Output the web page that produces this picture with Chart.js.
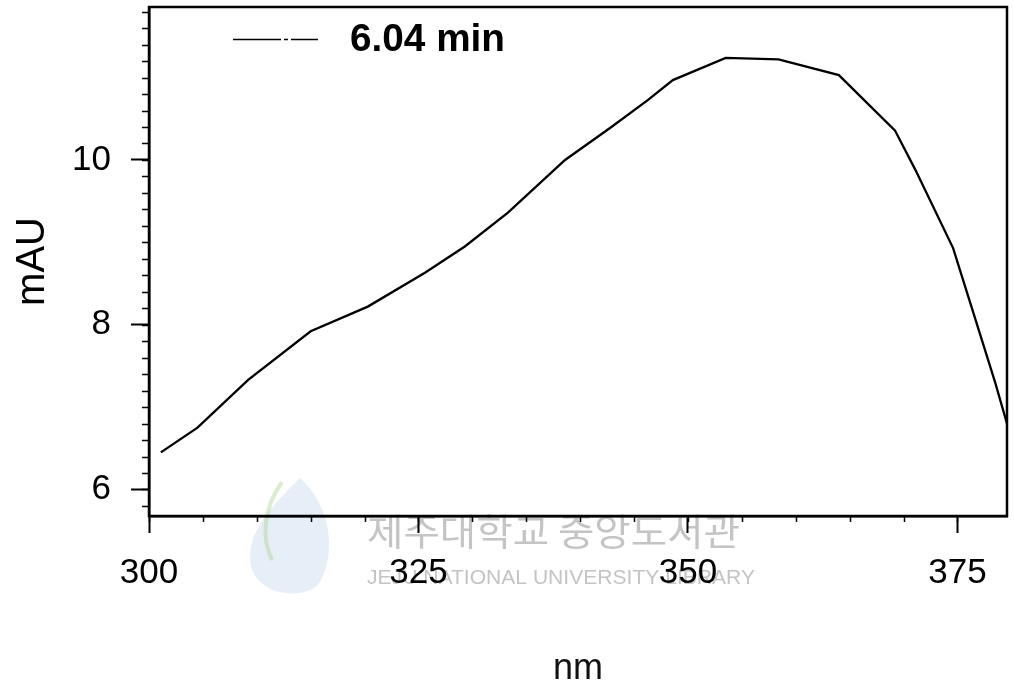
<!DOCTYPE html>
<html>
<head>
<meta charset="utf-8">
<script src="https://cdn.jsdelivr.net/npm/chart.js@4/dist/chart.umd.min.js"></script>
<style>
  html, body { margin: 0; padding: 0; background: #fff; }
  canvas { display: block; }
</style>
</head>
<body>
<canvas id="c" width="1014" height="689"></canvas>
<script>
// ---- data ----
const seriesLabel = '6.04 min';
const wavelengths = [301.1, 304.5, 309.2, 315.0, 320.3, 325.6, 329.3, 333.3, 338.6, 342.9, 346.3, 348.6, 353.5, 358.4, 364.0, 369.2, 371.1, 374.6, 376.3, 378.5, 379.6];
const absorbance  = [6.45, 6.75, 7.33, 7.92, 8.22, 8.63, 8.95, 9.36, 10.00, 10.40, 10.73, 10.97, 11.24, 11.22, 11.03, 10.36, 9.88, 8.93, 8.22, 7.30, 6.80];
const xTickValues = [300, 325, 350, 375];
const yTickValues = [6, 8, 10];
const xMinorStep = 5;
const yMinorStep = 0.2;
const xTitle = 'nm';
const yTitle = 'mAU';
const watermarkKo = '제주대학교 중앙도서관';
const watermarkEn = 'JEJU NATIONAL UNIVERSITY LIBRARY';

const FONT = '"Liberation Sans", Arial, Helvetica, sans-serif';

const decorPlugin = {
  id: 'decor',
  beforeDraw(chart) {
    const ctx = chart.ctx;
    ctx.save();
    // faint logo
    ctx.globalAlpha = 0.22;
    ctx.fillStyle = '#8fb3dd';
    ctx.beginPath();
    ctx.moveTo(300, 478);
    ctx.bezierCurveTo(335, 510, 335, 560, 318, 585);
    ctx.bezierCurveTo(300, 600, 262, 595, 252, 570);
    ctx.bezierCurveTo(244, 540, 262, 515, 300, 478);
    ctx.fill();
    ctx.globalAlpha = 0.4;
    ctx.strokeStyle = '#a8cf8a';
    ctx.lineWidth = 4;
    ctx.beginPath();
    ctx.moveTo(282, 482);
    ctx.bezierCurveTo(262, 510, 262, 540, 272, 560);
    ctx.stroke();
    ctx.globalAlpha = 1;
    // watermark text
    ctx.fillStyle = '#c4c4c4';
    ctx.textBaseline = 'middle';
    ctx.textAlign = 'left';
    ctx.font = '37px "Noto Sans CJK KR", sans-serif';
    let w = ctx.measureText(watermarkKo).width;
    ctx.save();
    ctx.translate(367, 532);
    ctx.scale(373 / w, 1);
    ctx.fillText(watermarkKo, 0, 0);
    ctx.restore();
    ctx.font = '21px ' + FONT;
    w = ctx.measureText(watermarkEn).width;
    ctx.save();
    ctx.translate(367, 578);
    ctx.scale(388 / w, 1);
    ctx.fillText(watermarkEn, 0, 0);
    ctx.restore();
    ctx.restore();
  },
  afterDraw(chart) {
    const ctx = chart.ctx;
    const a = chart.chartArea;
    const xs = chart.scales.x, ys = chart.scales.y;
    ctx.save();
    // frame
    ctx.strokeStyle = '#000';
    ctx.lineWidth = 2.5;
    ctx.strokeRect(a.left, a.top, a.right - a.left, a.bottom - a.top);
    // minor ticks
    ctx.lineWidth = 1.5;
    ctx.beginPath();
    for (let v = Math.ceil(ys.min / yMinorStep) * yMinorStep; v <= ys.max + 1e-9; v += yMinorStep) {
      const y = Math.round(ys.getPixelForValue(v)) + 0.5;
      ctx.moveTo(a.left, y);
      ctx.lineTo(a.left - 7, y);
    }
    for (let v = Math.ceil(xs.min / xMinorStep) * xMinorStep; v <= xs.max + 1e-9; v += xMinorStep) {
      const x = Math.round(xs.getPixelForValue(v)) + 0.5;
      ctx.moveTo(x, a.bottom);
      ctx.lineTo(x, a.bottom + 6);
    }
    ctx.stroke();
    // legend (inside plot area)
    const ds = chart.data.datasets[0];
    ctx.strokeStyle = ds.borderColor;
    ctx.lineWidth = 1.6;
    ctx.setLineDash([48, 3, 4, 3]);
    ctx.beginPath();
    ctx.moveTo(233, 39.5);
    ctx.lineTo(318, 39.5);
    ctx.stroke();
    ctx.setLineDash([]);
    ctx.fillStyle = '#000';
    ctx.font = 'bold 38px ' + FONT;
    ctx.textBaseline = 'middle';
    ctx.textAlign = 'left';
    const tw = ctx.measureText(ds.label).width;
    ctx.translate(350, 41);
    ctx.scale(155 / tw, 1);
    ctx.fillText(ds.label, 0, 0);
    ctx.restore();
  }
};

new Chart(document.getElementById('c'), {
  type: 'line',
  data: {
    datasets: [{
      label: seriesLabel,
      data: wavelengths.map((x, i) => ({ x: x, y: absorbance[i] })),
      borderColor: '#000',
      borderWidth: 2.3,
      pointRadius: 0,
      tension: 0,
      fill: false
    }]
  },
  options: {
    responsive: false,
    animation: false,
    devicePixelRatio: 1,
    layout: { padding: { top: 7, right: 7, left: 0, bottom: 0 } },
    plugins: { legend: { display: false }, tooltip: { enabled: false } },
    scales: {
      x: {
        type: 'linear',
        min: 300,
        max: 379.6,
        afterBuildTicks: s => { s.ticks = xTickValues.map(v => ({ value: v })); },
        afterFit: s => { s.height = 173; s.paddingLeft = 0; s.paddingRight = 0; },
        grid: { display: true, drawOnChartArea: false, drawTicks: true, tickLength: 17, tickWidth: 2, tickColor: '#000' },
        border: { display: true, color: '#000', width: 2.5 },
        ticks: { color: '#000', font: { family: FONT, size: 35 }, padding: 19, maxRotation: 0, autoSkip: false },
        title: { display: true, text: xTitle, color: '#111', font: { family: FONT, size: 36, lineHeight: 1.1 }, padding: { top: 0, bottom: 0 } }
      },
      y: {
        type: 'linear',
        min: 5.678,
        max: 11.857,
        afterBuildTicks: s => { s.ticks = yTickValues.map(v => ({ value: v })); },
        afterFit: s => { s.width = 149; s.paddingTop = 0; s.paddingBottom = 0; },
        grid: { display: true, drawOnChartArea: false, drawTicks: true, tickLength: 18, tickWidth: 2, tickColor: '#000' },
        border: { display: true, color: '#000', width: 2.5 },
        ticks: { color: '#000', font: { family: FONT, size: 35 }, padding: 20, autoSkip: false },
        title: { display: true, text: yTitle, color: '#000', font: { family: FONT, size: 40 }, padding: { top: 9, bottom: 0 } }
      }
    }
  },
  plugins: [decorPlugin]
});
</script>
</body>
</html>
